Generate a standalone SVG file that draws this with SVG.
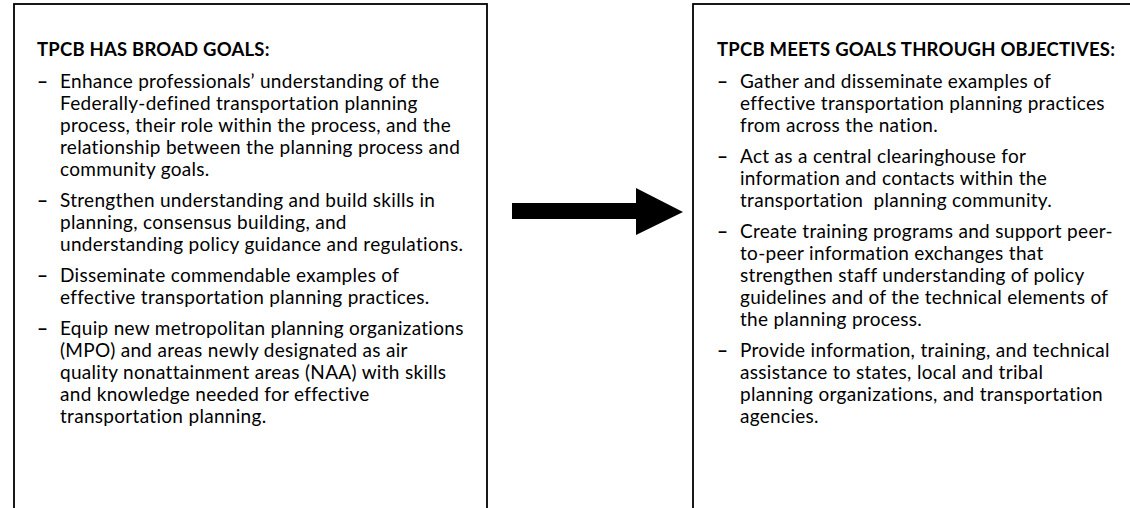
<svg xmlns="http://www.w3.org/2000/svg" width="1130" height="508" viewBox="0 0 1130 508">
  <style>
    .box { fill: #ffffff; stroke: #000000; stroke-width: 1.8; }
    .title { font-family: Lato, "Liberation Sans", sans-serif; font-size: 18.5px; font-weight: bold; letter-spacing: 0.2px; fill: #000000; }
    .item { font-family: Lato, "Liberation Sans", sans-serif; font-size: 19px; letter-spacing: 0.3px; fill: #000000; }
    .dash { font-weight: bold; }
  </style>
  <rect width="1130" height="508" fill="#ffffff"/>

  <!-- Goals panel -->
  <g id="goals">
    <rect class="box" x="14" y="4" width="473" height="520"/>
    <text class="title" x="37" y="56">TPCB HAS BROAD GOALS:</text>
    <g class="item">
      <text class="dash" x="37" y="88">–</text>
      <text x="60" y="88">Enhance professionals’ understanding of the</text>
      <text x="60" y="110">Federally-defined transportation planning</text>
      <text x="60" y="132">process, their role within the process, and the</text>
      <text x="60" y="154">relationship between the planning process and</text>
      <text x="60" y="176">community goals.</text>
      <text class="dash" x="37" y="207">–</text>
      <text x="60" y="207">Strengthen understanding and build skills in</text>
      <text x="60" y="229">planning, consensus building, and</text>
      <text x="60" y="251">understanding policy guidance and regulations.</text>
      <text class="dash" x="37" y="282">–</text>
      <text x="60" y="282">Disseminate commendable examples of</text>
      <text x="60" y="304">effective transportation planning practices.</text>
      <text class="dash" x="37" y="335">–</text>
      <text x="60" y="335">Equip new metropolitan planning organizations</text>
      <text x="60" y="357">(MPO) and areas newly designated as air</text>
      <text x="60" y="379">quality nonattainment areas (NAA) with skills</text>
      <text x="60" y="401">and knowledge needed for effective</text>
      <text x="60" y="423">transportation planning.</text>
    </g>
  </g>

  <!-- Objectives panel -->
  <g id="objectives">
    <rect class="box" x="693" y="4" width="460" height="520"/>
    <text class="title" x="717" y="56">TPCB MEETS GOALS THROUGH OBJECTIVES:</text>
    <g class="item">
      <text class="dash" x="717" y="88">–</text>
      <text x="740" y="88">Gather and disseminate examples of</text>
      <text x="740" y="110">effective transportation planning practices</text>
      <text x="740" y="132">from across the nation.</text>
      <text class="dash" x="717" y="163">–</text>
      <text x="740" y="163">Act as a central clearinghouse for</text>
      <text x="740" y="185">information and contacts within the</text>
      <text x="740" y="207" xml:space="preserve">transportation  planning community.</text>
      <text class="dash" x="717" y="238">–</text>
      <text x="740" y="238">Create training programs and support peer-</text>
      <text x="740" y="260">to-peer information exchanges that</text>
      <text x="740" y="282">strengthen staff understanding of policy</text>
      <text x="740" y="304">guidelines and of the technical elements of</text>
      <text x="740" y="326">the planning process.</text>
      <text class="dash" x="717" y="357">–</text>
      <text x="740" y="357">Provide information, training, and technical</text>
      <text x="740" y="379">assistance to states, local and tribal</text>
      <text x="740" y="401">planning organizations, and transportation</text>
      <text x="740" y="423">agencies.</text>
    </g>
  </g>

  <!-- Connector: block arrow from goals to objectives -->
  <g id="connectors">
    <polygon points="512,203 636,203 636,188 683,212 636,235 636,219 512,219" fill="#000000"/>
  </g>
</svg>
